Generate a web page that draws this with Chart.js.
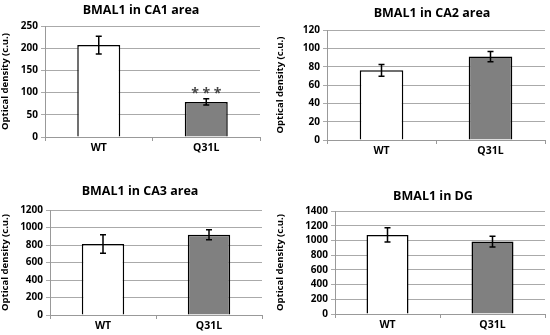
<!DOCTYPE html>
<html>
<head>
<meta charset="utf-8">
<script src="https://cdn.jsdelivr.net/npm/chart.js@4.4.0/dist/chart.umd.min.js"></script>
<style>
  body { margin: 0; background: #fff; }
  #wrap { position: relative; width: 550px; height: 335px; }
  .panel { position: absolute; }
</style>
</head>
<body>
<div id="wrap">
  <div class="panel" style="left:0;top:0"><canvas id="c1" width="275" height="168"></canvas></div>
  <div class="panel" style="left:275px;top:0"><canvas id="c2" width="275" height="168"></canvas></div>
  <div class="panel" style="left:0;top:168px"><canvas id="c3" width="275" height="167"></canvas></div>
  <div class="panel" style="left:275px;top:168px"><canvas id="c4" width="275" height="167"></canvas></div>
</div>
<script>
// dados
const categories = ['WT', 'Q31L'];
const barColors = ['#ffffff', '#808080'];

const ca1Values = [207, 79];
const ca1Errors = [20, 7];
const ca1Marks = ['', '***'];

const ca2Values = [76, 91];
const ca2Errors = [6.5, 5.5];

const ca3Values = [812, 917];
const ca3Errors = [105, 57];

const dgValues = [1075, 985];
const dgErrors = [96, 73];

const yMax = [250, 120, 1200, 1400];
const yStep = [50, 20, 200, 200];
const titles = ['BMAL1 in CA1 area', 'BMAL1 in CA2 area', 'BMAL1 in CA3 area', 'BMAL1 in DG'];

const FONTE = "'Open Sans'";

// desenha barras de erro e asteriscos
const errorBarPlugin = {
    id: 'errorBars',
    afterDatasetsDraw(chart, args, opts) {
        const ctx = chart.ctx;
        const yScale = chart.scales.y;
        const meta = chart.getDatasetMeta(0);
        const values = chart.data.datasets[0].data;
        ctx.save();
        ctx.strokeStyle = '#000';
        ctx.lineWidth = 1.5;
        meta.data.forEach(function (bar, i) {
            const err = opts.errors[i];
            const yTop = yScale.getPixelForValue(values[i] + err);
            const yBot = yScale.getPixelForValue(values[i] - err);
            ctx.beginPath();
            ctx.moveTo(bar.x, yTop);
            ctx.lineTo(bar.x, yBot);
            ctx.moveTo(bar.x - 3, yTop);
            ctx.lineTo(bar.x + 3, yTop);
            ctx.moveTo(bar.x - 3, yBot);
            ctx.lineTo(bar.x + 3, yBot);
            ctx.stroke();
            if (opts.marks && opts.marks[i]) {
                ctx.fillStyle = '#444';
                ctx.font = 'bold 14px ' + FONTE;
                ctx.textAlign = 'center';
                ctx.textBaseline = 'middle';
                ctx.fillText(opts.marks[i].split('').join(' '), bar.x, yTop - 5);
            }
        });
        ctx.restore();
    }
};

// título posicionado à mão, como no original
const tituloPlugin = {
    id: 'tituloPainel',
    afterDraw(chart, args, opts) {
        const ctx = chart.ctx;
        ctx.save();
        ctx.fillStyle = '#000';
        ctx.font = 'bold 12.5px ' + FONTE;
        ctx.textAlign = 'center';
        ctx.textBaseline = 'middle';
        ctx.fillText(opts.text, opts.x, opts.y);
        ctx.restore();
    }
};

function criarGrafico(id, idx, values, errors, marks, box) {
    const ctx = document.getElementById(id);
    return new Chart(ctx, {
        type: 'bar',
        data: {
            labels: categories,
            datasets: [{
                data: values,
                backgroundColor: barColors,
                borderColor: '#000',
                borderWidth: 1.5,
                categoryPercentage: 1,
                barPercentage: 0.4,
            }],
        },
        plugins: [errorBarPlugin, tituloPlugin],
        options: {
            responsive: false,
            animation: false,
            layout: { padding: { left: 0, right: box.right, top: box.top, bottom: 0 } },
            plugins: {
                legend: { display: false },
                tooltip: { enabled: false },
                title: { display: false },
                tituloPainel: { text: titles[idx], x: box.titleX, y: box.titleY },
                errorBars: { errors: errors, marks: marks },
            },
            scales: {
                x: {
                    afterFit: function (s) { s.height = box.xHeight; },
                    grid: { display: true, drawOnChartArea: false, tickLength: 4, color: '#999' },
                    border: { color: '#999' },
                    ticks: { color: '#000', padding: 1, font: { family: FONTE, size: 10.5, weight: 'bold' } },
                },
                y: {
                    min: 0,
                    max: yMax[idx],
                    afterFit: function (s) { s.width = box.left; },
                    grid: { color: '#aaa', tickLength: 4 },
                    border: { color: '#999' },
                    ticks: {
                        stepSize: yStep[idx],
                        autoSkip: false,
                        color: '#000',
                        padding: 3,
                        font: { family: FONTE, size: 10, weight: 'bold' },
                        callback: function (v) { return String(v); },
                    },
                    title: {
                        display: true,
                        text: 'Optical density (c.u.)',
                        color: '#000',
                        padding: { top: 0, bottom: 2 },
                        font: { family: FONTE, size: 9.5, weight: 'bold' },
                    },
                },
            },
        },
    });
}

criarGrafico('c1', 0, ca1Values, ca1Errors, ca1Marks, { left: 45, right: 15, top: 26, xHeight: 31, titleX: 141, titleY: 10 });
criarGrafico('c2', 1, ca2Values, ca2Errors, null, { left: 52, right: 5, top: 30, xHeight: 28, titleX: 157, titleY: 13 });
criarGrafico('c3', 2, ca3Values, ca3Errors, null, { left: 50, right: 13, top: 42, xHeight: 20, titleX: 140, titleY: 23 });
criarGrafico('c4', 3, dgValues, dgErrors, null, { left: 60, right: 5, top: 43, xHeight: 21, titleX: 158, titleY: 28 });
</script>
</body>
</html>
